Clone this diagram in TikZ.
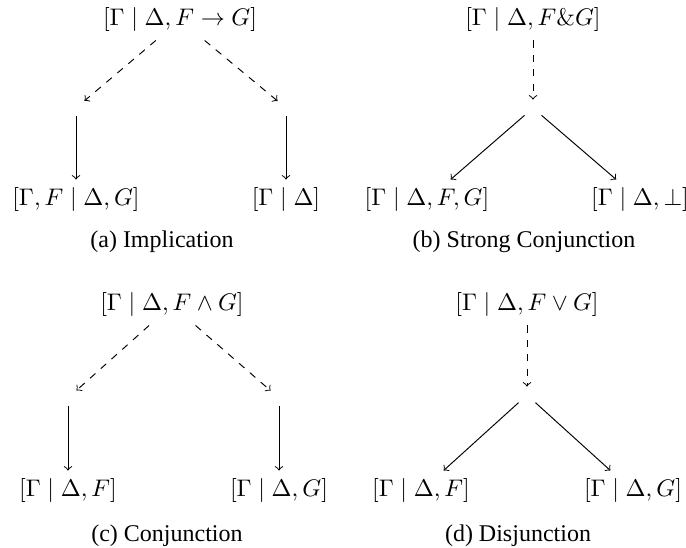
\documentclass[tikz,border=0pt]{standalone}
\usepackage{fontspec}
\newfontfamily\capfont{Liberation Serif}
\begin{document}
\begin{tikzpicture}[x=0.41667pt,y=-0.41667pt,
  capt/.style={font=\capfont,anchor=base},
  try/.style={dashed,->},
  split/.style={->}]
\useasboundingbox (0,0) rectangle (686,548);
% (a) implication
\node (at) at (180,20) {$[\Gamma \mid \Delta, F \to G]$};
\node (al) at (76,108) {};
\node (ar) at (286,108) {};
\node (all) at (76,200) {$[\Gamma, F \mid \Delta, G]$};
\node (arr) at (286,200) {$[\Gamma \mid \Delta]$};
\draw[try] (at) -- (al);
\draw[try] (at) -- (ar);
\draw[split] (al) -- (all);
\draw[split] (ar) -- (arr);
\node[capt] (acap) at (162,248) {(a) Implication};
% (b) strong conjunction
\node (bt) at (533,20) {$[\Gamma \mid \Delta, F\&G]$};
\node (bm) at (533,108) {};
\node (bl) at (427,200) {$[\Gamma \mid \Delta, F, G]$};
\node (br) at (640,200) {$[\Gamma \mid \Delta, \bot]$};
\draw[try] (bt) -- (bm);
\draw[split] (bm) -- (bl);
\draw[split] (bm) -- (br);
\node[capt] (bcap) at (524,248) {(b) Strong Conjunction};
% (c) conjunction
\node (ct) at (172,305) {$[\Gamma \mid \Delta, F \wedge G]$};
\node (cl) at (68,398) {};
\node (cr) at (279,398) {};
\node (cll) at (68,491) {$[\Gamma \mid \Delta, F]$};
\node (crr) at (279,491) {$[\Gamma \mid \Delta, G]$};
\draw[try] (ct) -- (cl);
\draw[try] (ct) -- (cr);
\draw[split] (cl) -- (cll);
\draw[split] (cr) -- (crr);
\node[capt] (ccap) at (167,542) {(c) Conjunction};
% (d) disjunction
\node (dt) at (527,305) {$[\Gamma \mid \Delta, F \vee G]$};
\node (dm) at (527,395) {};
\node (dl) at (421,491) {$[\Gamma \mid \Delta, F]$};
\node (dr) at (633,491) {$[\Gamma \mid \Delta, G]$};
\draw[try] (dt) -- (dm);
\draw[split] (dm) -- (dl);
\draw[split] (dm) -- (dr);
\node[capt] (dcap) at (518,542) {(d) Disjunction};
\end{tikzpicture}
\end{document}
